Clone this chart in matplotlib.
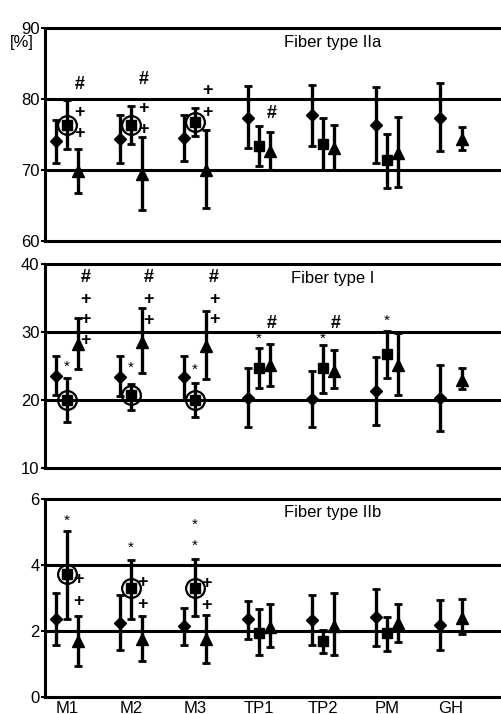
import numpy as np
import matplotlib.pyplot as plt

plt.rcParams['font.family'] = ['Liberation Sans', 'DejaVu Sans']

sites = ['M1', 'M2', 'M3', 'TP1', 'TP2', 'PM', 'GH']
nan = np.nan

# Fiber type IIa  (mean, upper end, lower end of error bar)
iia_dia = [74.1, 74.4, 74.5, 77.3, 77.7, 76.4, 77.3]
iia_dia_hi = [77.0, 77.7, 77.8, 81.8, 82.0, 81.7, 82.2]
iia_dia_lo = [71.0, 71.0, 71.3, 73.1, 73.4, 71.0, 72.7]
iia_sq = [76.4, 76.4, 76.7, 73.4, 73.7, 71.4, nan]
iia_sq_hi = [79.9, 79.0, 78.8, 76.2, 77.3, 75.1, nan]
iia_sq_lo = [72.9, 73.7, 74.8, 70.6, 70.0, 67.5, nan]
iia_tri = [69.9, 69.4, 70.0, 72.7, 73.1, 72.4, 74.3]
iia_tri_hi = [73.0, 74.7, 75.6, 75.3, 76.4, 77.5, 76.1]
iia_tri_lo = [66.7, 64.3, 64.6, 70.0, 70.0, 67.6, 72.8]

# Fiber type I
i_dia = [23.6, 23.4, 23.4, 20.3, 20.1, 21.3, 20.3]
i_dia_hi = [26.4, 26.4, 26.4, 24.7, 24.3, 26.3, 25.2]
i_dia_lo = [20.8, 20.6, 20.0, 16.0, 16.0, 16.3, 15.5]
i_sq = [20.0, 20.7, 20.0, 24.7, 24.7, 26.8, nan]
i_sq_hi = [23.2, 22.4, 22.5, 27.6, 28.1, 30.2, nan]
i_sq_lo = [16.7, 18.5, 17.5, 21.8, 21.1, 23.2, nan]
i_tri = [28.2, 28.6, 28.0, 25.2, 24.3, 25.2, 23.0]
i_tri_hi = [32.1, 33.5, 33.1, 28.2, 27.3, 29.9, 24.7]
i_tri_lo = [24.6, 23.9, 23.1, 22.1, 21.8, 20.8, 21.6]

# Fiber type IIb
iib_dia = [2.35, 2.25, 2.15, 2.35, 2.33, 2.43, 2.18]
iib_dia_hi = [3.14, 3.08, 2.71, 2.91, 3.08, 3.28, 2.93]
iib_dia_lo = [1.57, 1.42, 1.59, 1.77, 1.59, 1.55, 1.42]
iib_sq = [3.72, 3.29, 3.31, 1.93, 1.70, 1.93, nan]
iib_sq_hi = [5.03, 4.14, 4.17, 2.66, 2.03, 2.43, nan]
iib_sq_lo = [2.37, 2.37, 2.45, 1.26, 1.32, 1.39, nan]
iib_tri = [1.70, 1.77, 1.77, 2.13, 2.15, 2.23, 2.40]
iib_tri_hi = [2.47, 2.47, 2.50, 2.81, 3.14, 2.81, 2.98]
iib_tri_lo = [0.94, 1.10, 1.04, 1.53, 1.26, 1.67, 1.90]

# significance marks: (x in category units, y, symbol)
iia_marks = [(0.2, 82.0, '#'), (0.2, 78.1, '+'), (0.2, 75.1, '+'),
             (1.2, 82.7, '#'), (1.2, 78.7, '+'), (1.2, 75.7, '+'),
             (2.2, 81.2, '+'), (2.2, 78.1, '+'), (3.2, 78.0, '#')]
i_marks = [(0.3, 38.0, '#'), (0.3, 34.8, '+'), (0.3, 31.8, '+'), (0.3, 28.7, '+'),
           (1.28, 38.0, '#'), (1.28, 34.8, '+'), (1.28, 31.7, '+'),
           (2.3, 38.0, '#'), (2.3, 34.8, '+'), (2.3, 31.8, '+'),
           (0.0, 24.9, '*'), (1.0, 24.7, '*'), (2.0, 24.5, '*'),
           (3.2, 31.2, '#'), (3.0, 29.0, '*'),
           (4.2, 31.2, '#'), (4.0, 29.0, '*'), (5.0, 31.7, '*')]
iib_marks = [(0.0, 5.33, '*'), (0.19, 3.57, '+'), (0.19, 2.88, '+'),
             (1.0, 4.53, '*'), (1.18, 3.48, '+'), (1.18, 2.81, '+'),
             (2.0, 5.23, '*'), (2.0, 4.58, '*'), (2.18, 3.44, '+'), (2.18, 2.78, '+')]

circled = [0, 1, 2]


def draw_series(ax, x, mean, hi, lo, marker, size):
    mean = np.array(mean)
    err = [mean - np.array(lo), np.array(hi) - mean]
    ax.errorbar(x, mean, yerr=err, fmt=marker, color='black', ms=size,
                elinewidth=2.4, capsize=3, capthick=2.0, zorder=3)


def draw_panel(ax, data, ylim, ticks, grid, title, marks):
    x = np.arange(len(sites))
    (dia, dia_hi, dia_lo), (sq, sq_hi, sq_lo), (tri, tri_hi, tri_lo) = data
    draw_series(ax, x - 0.17, dia, dia_hi, dia_lo, 'D', 6.5)
    draw_series(ax, x, sq, sq_hi, sq_lo, 's', 7.5)
    draw_series(ax, x + 0.17, tri, tri_hi, tri_lo, '^', 8.5)
    ax.plot(x[circled], np.array(sq)[circled], 'o', ms=13.5, mfc='none',
            mec='black', mew=1.6, zorder=4)
    for gy in grid:
        ax.axhline(gy, color='black', lw=2.2, zorder=1)
    for mx, my, s in marks:
        if s == '*':
            ax.text(mx, my, s, ha='center', va='center', fontsize=11)
        else:
            ax.text(mx, my, s, ha='center', va='center', fontsize=13,
                    fontweight='bold')
    ax.text(0.63, 0.93, title, transform=ax.transAxes, ha='center', va='center',
            fontsize=12)
    ax.set_xlim(-0.34, 6.78)
    ax.set_ylim(*ylim)
    ax.set_yticks(ticks)
    ax.tick_params(axis='y', length=3, width=1.5, pad=1, labelsize=12)
    for s in ['left', 'top', 'bottom']:
        ax.spines[s].set_linewidth(2.2)
    ax.spines['right'].set_visible(False)


fig = plt.figure(figsize=(5.01, 7.14), dpi=100)
ax1 = fig.add_axes([0.0898, 0.6625, 0.9102, 0.2983])
ax2 = fig.add_axes([0.0898, 0.3445, 0.9102, 0.2858])
ax3 = fig.add_axes([0.0898, 0.0238, 0.9102, 0.2773])

draw_panel(ax1, [(iia_dia, iia_dia_hi, iia_dia_lo), (iia_sq, iia_sq_hi, iia_sq_lo),
                 (iia_tri, iia_tri_hi, iia_tri_lo)],
           (60, 90), [60, 70, 80, 90], [70, 80], 'Fiber type IIa', iia_marks)
draw_panel(ax2, [(i_dia, i_dia_hi, i_dia_lo), (i_sq, i_sq_hi, i_sq_lo),
                 (i_tri, i_tri_hi, i_tri_lo)],
           (10, 40), [10, 20, 30, 40], [20, 30], 'Fiber type I', i_marks)
draw_panel(ax3, [(iib_dia, iib_dia_hi, iib_dia_lo), (iib_sq, iib_sq_hi, iib_sq_lo),
                 (iib_tri, iib_tri_hi, iib_tri_lo)],
           (0, 6), [0, 2, 4, 6], [2, 4], 'Fiber type IIb', iib_marks)

for ax in (ax1, ax2):
    ax.set_xticks([])
ax3.set_xticks(np.arange(len(sites)))
ax3.set_xticklabels(sites)
ax3.tick_params(axis='x', length=0, pad=3, labelsize=12)

fig.text(22 / 501, 1 - 43 / 714, '[%]', ha='center', va='center', fontsize=12)

fig.savefig('out.png', dpi=100)
